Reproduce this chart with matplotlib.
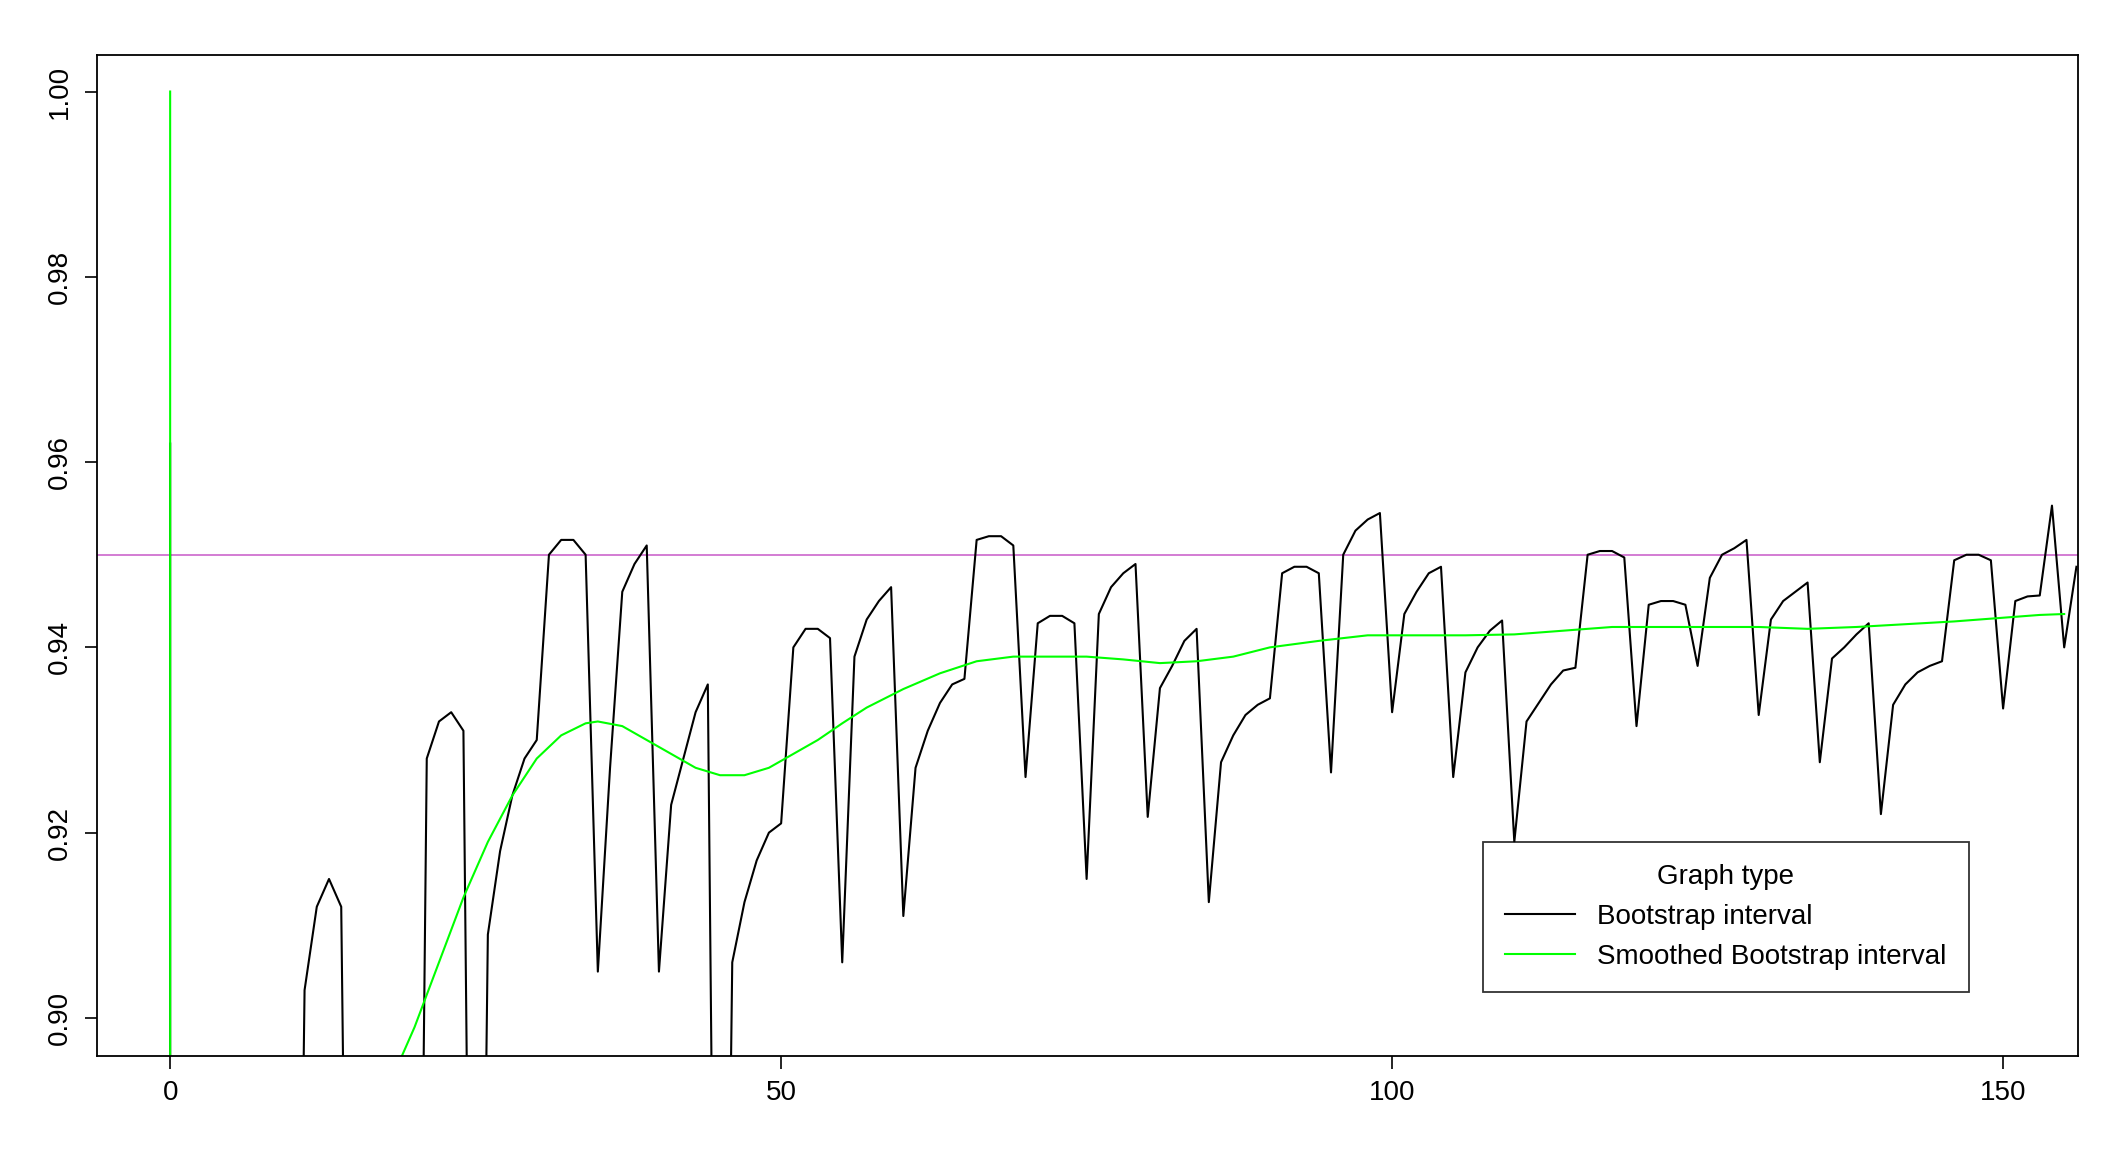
import numpy as np
import matplotlib
matplotlib.use("Agg")
import matplotlib.pyplot as plt

# values below the visible range are stored as 0.80 (they run off the bottom)
LOW = 0.80

boot_x = [0, 0, 0] + list(range(1, 157))
boot_y = ([0.962, 0.929, LOW]
          + [LOW] * 10
          + [0.903, 0.912, 0.915, 0.912, LOW, LOW, LOW, LOW, LOW, LOW,      # 11-20
             0.928, 0.932, 0.933, 0.931, LOW, 0.909, 0.918, 0.924, 0.928, 0.930,  # 21-30
             0.950, 0.9516, 0.9516, 0.950, 0.905, 0.927, 0.946, 0.949, 0.951, 0.905,  # 31-40
             0.923, 0.928, 0.933, 0.936, LOW, 0.906, 0.9125, 0.917, 0.920, 0.921,  # 41-50
             0.940, 0.942, 0.942, 0.941, 0.906, 0.939, 0.943, 0.945, 0.9465, 0.911,  # 51-60
             0.927, 0.931, 0.934, 0.936, 0.9366, 0.9516, 0.952, 0.952, 0.951, 0.926,  # 61-70
             0.9426, 0.9434, 0.9434, 0.9426, 0.915, 0.9436, 0.9465, 0.948, 0.949, 0.9217,  # 71-80
             0.9356, 0.938, 0.9407, 0.942, 0.9125, 0.9276, 0.9305, 0.9327, 0.9338, 0.9345,  # 81-90
             0.948, 0.9487, 0.9487, 0.948, 0.9265, 0.950, 0.9526, 0.9538, 0.9545, 0.933,  # 91-100
             0.9436, 0.946, 0.948, 0.9487, 0.926, 0.9373, 0.940, 0.9418, 0.9429, 0.919,  # 101-110
             0.932, 0.934, 0.936, 0.9375, 0.9378, 0.950, 0.9504, 0.9504, 0.9497, 0.9315,  # 111-120
             0.9446, 0.945, 0.945, 0.9446, 0.938, 0.9475, 0.950, 0.9507, 0.9516, 0.9327,  # 121-130
             0.943, 0.945, 0.946, 0.947, 0.9276, 0.9388, 0.940, 0.9414, 0.9426, 0.922,  # 131-140
             0.9338, 0.936, 0.9373, 0.938, 0.9385, 0.9494, 0.950, 0.950, 0.9494, 0.9334,  # 141-150
             0.945, 0.9455, 0.9456, 0.9553, 0.940, 0.9487])                          # 151-156

smooth_x = [0, 0, 18, 20, 22, 24, 26, 28, 30, 32, 34, 35, 37, 39, 41, 43, 45, 47, 49,
            51, 53, 55, 57, 60, 63, 66, 69, 72, 75, 78, 81, 84, 87, 90, 94, 98, 102,
            106, 110, 114, 118, 122, 126, 130, 134, 138, 142, 146, 150, 153, 155]
smooth_y = [1.0, LOW, 0.893, 0.899, 0.906, 0.913, 0.919, 0.924, 0.928, 0.9305, 0.9318,
            0.932, 0.9315, 0.930, 0.9285, 0.927, 0.9262, 0.9262, 0.927, 0.9285, 0.930,
            0.9318, 0.9335, 0.9355, 0.9372, 0.9385, 0.939, 0.939, 0.939, 0.9387, 0.9383,
            0.9385, 0.939, 0.940, 0.9407, 0.9413, 0.9413, 0.9413, 0.9414, 0.9418, 0.9422,
            0.9422, 0.9422, 0.9422, 0.942, 0.9422, 0.9425, 0.9428, 0.9432, 0.9435, 0.9436]

ref_level = 0.95
y_ticks = [0.90, 0.92, 0.94, 0.96, 0.98, 1.00]
x_ticks = [0, 50, 100, 150]

plt.rcParams['font.family'] = ['Liberation Sans', 'DejaVu Sans']

fig = plt.figure(figsize=(21.05, 11.54), dpi=100)
ax = fig.add_axes([0.046, 0.085, 0.941, 0.867])

ax.axhline(ref_level, color='#CC66CC', lw=1.2)
ax.plot(boot_x, boot_y, color='black', lw=1.5, label='Bootstrap interval')
ax.plot(smooth_x, smooth_y, color='#00FF00', lw=1.5, label='Smoothed Bootstrap interval')

ax.set_xlim(-6, 156.1)
ax.set_ylim(0.8959, 1.0039)
ax.set_xticks(x_ticks)
ax.set_yticks(y_ticks)
ax.set_yticklabels([f'{v:.2f}' for v in y_ticks], rotation=90, va='center')
ax.tick_params(labelsize=20, length=9, width=1.2, pad=8)
for s in ax.spines.values():
    s.set_linewidth(1.3)

leg = ax.legend(title='Graph type', loc='lower right', bbox_to_anchor=(0.952, 0.05),
                fontsize=20, title_fontsize=20, frameon=True, fancybox=False,
                edgecolor='black', handlelength=2.5, borderpad=0.8)
leg.get_frame().set_linewidth(1.3)

fig.savefig('out.png', dpi=100)
